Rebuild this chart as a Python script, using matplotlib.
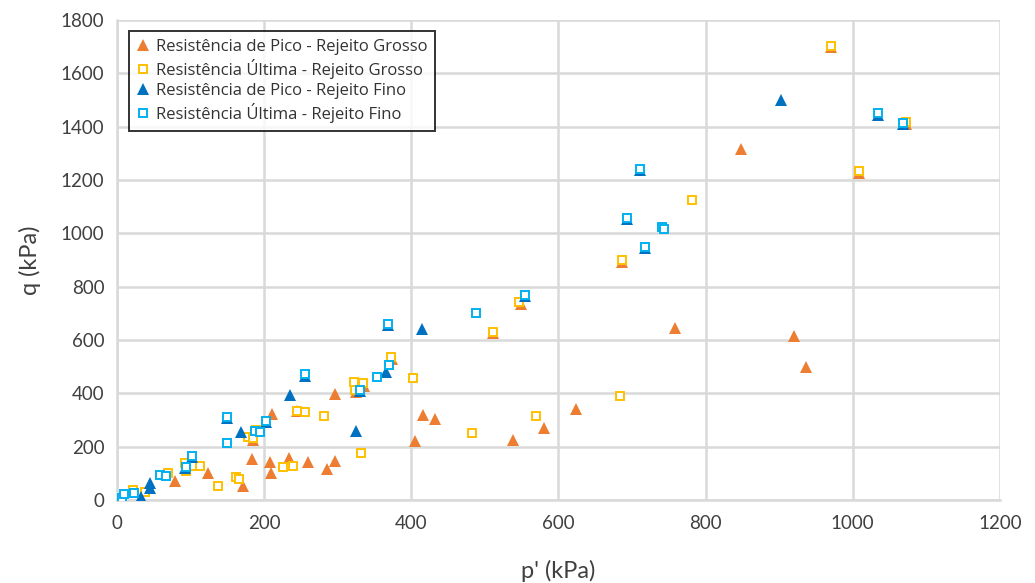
import matplotlib
matplotlib.use("Agg")
import matplotlib.pyplot as plt

plt.rcParams['font.family'] = ['Lato', 'DejaVu Sans']

# Resistência de Pico - Rejeito Grosso
pico_grosso_p = [79, 124, 171, 183, 185, 208, 210, 234, 259, 286, 296, 296, 211, 245, 336, 325,
                 374, 405, 416, 432, 511, 538, 549, 581, 624, 686, 758, 848, 920, 936, 970, 1009, 1072]
pico_grosso_q = [72, 100, 52, 155, 226, 144, 102, 156, 142, 116, 146, 396, 323, 332, 428, 405,
                 530, 220, 319, 304, 625, 226, 735, 270, 340, 893, 644, 1315, 615, 500, 1698, 1228, 1410]

# Resistência Última - Rejeito Grosso
ultima_grosso_p = [22, 38, 70, 93, 94, 104, 113, 138, 162, 166, 178, 185, 189, 226, 239, 245, 255,
                   282, 322, 323, 335, 332, 373, 402, 482, 511, 547, 570, 684, 686, 782, 970, 1009, 1072]
ultima_grosso_q = [37, 31, 103, 137, 109, 129, 129, 54, 87, 79, 237, 231, 262, 125, 128, 335, 329,
                   316, 444, 412, 437, 177, 535, 459, 252, 631, 744, 316, 390, 900, 1125, 1702, 1234, 1417]

# Resistência de Pico - Rejeito Fino
pico_fino_p = [33, 45, 45, 92, 102, 150, 168, 202, 235, 256, 325, 331, 366, 368, 415, 554,
               693, 711, 718, 902, 1035, 1068]
pico_fino_q = [12, 63, 44, 119, 160, 307, 256, 291, 394, 466, 259, 407, 481, 655, 640, 764,
               1054, 1236, 945, 1500, 1445, 1410]

# Resistência Última - Rejeito Fino
ultima_fino_p = [7, 10, 23, 59, 66, 94, 102, 150, 150, 187, 195, 202, 256, 331, 354, 370, 368,
                 488, 554, 693, 711, 718, 741, 743, 1035, 1068]
ultima_fino_q = [6, 21, 25, 94, 90, 125, 165, 312, 212, 260, 256, 296, 472, 412, 460, 506, 660,
                 700, 769, 1059, 1241, 950, 1025, 1016, 1450, 1415]

fig = plt.figure(figsize=(10.35, 5.83), dpi=100)
ax = fig.add_axes([0.113, 0.1424, 0.853, 0.8233])

tri_ms, sq_ms = 8.5, 6
ax.plot(pico_grosso_p, pico_grosso_q, '^', color='#ED7D31', ms=tri_ms, mew=0,
        label='Resistência de Pico - Rejeito Grosso', zorder=3)
ax.plot(ultima_grosso_p, ultima_grosso_q, 's', mfc='white', mec='#FFC000', ms=sq_ms, mew=1.4,
        label='Resistência Última - Rejeito Grosso', zorder=4)
ax.plot(pico_fino_p, pico_fino_q, '^', color='#0070C0', ms=tri_ms, mew=0,
        label='Resistência de Pico - Rejeito Fino', zorder=5)
ax.plot(ultima_fino_p, ultima_fino_q, 's', mfc='white', mec='#00B0F0', ms=sq_ms, mew=1.4,
        label='Resistência Última - Rejeito Fino', zorder=6)

ax.set_xlim(0, 1200)
ax.set_ylim(0, 1800)
ax.set_xticks(range(0, 1201, 200))
ax.set_yticks(range(0, 1801, 200))
ax.grid(True, color='#d9d9d9', linewidth=1.8, zorder=0)
ax.set_axisbelow(True)
for s in ['top', 'right']:
    ax.spines[s].set_visible(False)
for s in ['left', 'bottom']:
    ax.spines[s].set_color('#d9d9d9')
    ax.spines[s].set_linewidth(1.8)
ax.tick_params(length=0, labelsize=13.5, colors='#404040')
ax.tick_params(axis='x', pad=11)
ax.tick_params(axis='y', pad=9)

ax.set_xlabel("p' (kPa)", fontsize=17, color='#404040', labelpad=20)
ax.set_ylabel('q (kPa)', fontsize=17, color='#404040', labelpad=14)

leg = ax.legend(loc='upper left', bbox_to_anchor=(0.014, 0.977),
                frameon=True, fancybox=False, handlelength=0.7, handletextpad=0.45,
                borderpad=0.45, labelspacing=0.25, borderaxespad=0,
                prop={'family': ['Open Sans', 'DejaVu Sans'], 'size': 12})
leg.get_frame().set_edgecolor('black')
leg.get_frame().set_linewidth(1.4)
for t in leg.get_texts():
    t.set_color('#333333')

fig.savefig('out.png', dpi=100)
